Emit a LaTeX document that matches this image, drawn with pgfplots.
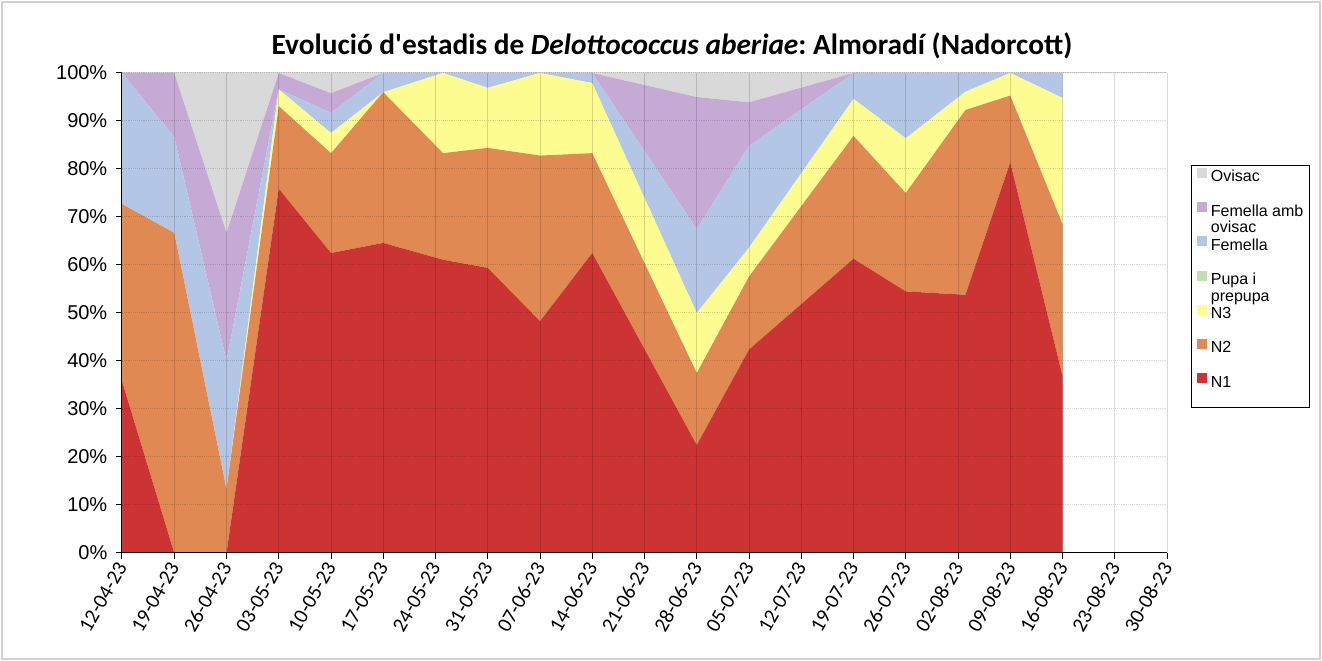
\documentclass[border=0pt]{standalone}
\usepackage{fontspec}
\setmainfont{Liberation Sans}
\newfontfamily\calibri{Carlito}
\usepackage{pgfplots}
\usepackage{pgfplotstable}
\pgfplotsset{compat=1.18}

\definecolor{cN1}{RGB}{204,51,51}
\definecolor{cN2}{RGB}{225,137,82}
\definecolor{cN3}{RGB}{253,252,145}
\definecolor{cPupa}{RGB}{193,222,174}
\definecolor{cFem}{RGB}{179,198,230}
\definecolor{cFemOv}{RGB}{197,170,214}
\definecolor{cOvi}{RGB}{217,217,217}

% day 0 = 12-04-23; shares per stage (%)
\pgfplotstableread{
day N1   N2   N3   Pupa Fem  FemOv Ovisac
0   35.8 36.9 0    0    27.3 0     0
7   0    66.7 0    0    20.0 13.3  0
14  0    13.3 0    0    26.7 26.7  33.3
21  75.9 17.2 3.5  0    0    3.4   0
28  62.5 20.8 4.2  0    4.2  4.1   4.2
35  64.6 31.4 0    0    4.0  0     0
43  61.1 22.2 16.7 0    0    0     0
49  59.4 25.0 12.5 0    3.1  0     0
56  48.3 34.5 17.2 0    0    0     0
63  62.5 20.8 14.6 0    2.1  0     0
77  22.5 15.0 12.5 0    17.5 27.5  5.0
84  42.4 15.2 6.0  0    21.2 9.1   6.1
98  61.3 25.6 7.7  0    5.4  0     0
105 54.5 20.5 11.4 0    13.6 0     0
113 53.8 38.5 3.8  0    3.9  0     0
119 81.4 13.9 4.7  0    0    0     0
126 36.9 31.6 26.3 0    5.2  0     0
}\stages

\begin{document}
\frenchspacing
\begin{tikzpicture}
\path[use as bounding box] (0,0) rectangle (991.5pt,495.75pt);
\draw[black!18, line width=1.5pt] (1.5pt,1.5pt) rectangle (990pt,494.25pt);

\node[font=\calibri\fontsize{22}{24}\selectfont\bfseries, anchor=base]
  at (504pt,455pt) {Evolució d\textquotesingle estadis de \textit{Delottococcus aberiae}: Almoradí (Nadorcott)};

\begin{axis}[
  at={(91.5pt,81pt)}, anchor=south west,
  scale only axis, width=783.75pt, height=360pt,
  xmin=0, xmax=140, ymin=0, ymax=100,
  stack plots=y,
  axis on top,
  axis x line*=bottom, axis y line*=left,
  axis line style={black, line width=0.75pt},
  tick align=outside, major tick length=4.5pt,
  tick style={black, line width=0.75pt},
  xtick={0,7,...,140},
  xticklabels={12-04-23,19-04-23,26-04-23,03-05-23,10-05-23,17-05-23,24-05-23,
    31-05-23,07-06-23,14-06-23,21-06-23,28-06-23,05-07-23,12-07-23,19-07-23,
    26-07-23,02-08-23,09-08-23,16-08-23,23-08-23,30-08-23},
  xticklabel style={font=\calibri\fontsize{15.5}{16}\selectfont, rotate=60, anchor=east, yshift=-2pt},
  ytick={0,10,...,100},
  yticklabels={0\%,10\%,20\%,30\%,40\%,50\%,60\%,70\%,80\%,90\%,100\%},
  yticklabel style={font=\fontsize{15}{15}\selectfont, xshift=-3pt},
  xmajorgrids, ymajorgrids,
  x grid style={black, opacity=0.15, line width=0.75pt},
  y grid style={black, opacity=0.15, densely dotted, line width=0.75pt},
  legend image code/.code={\fill[#1] (0pt,0pt) rectangle (7.5pt,7.5pt);},
  legend cell align=left,
  reverse legend,
  legend style={at={(axis description cs:1.0239,0.8083)}, anchor=north west,
    draw=none, name=leg, font=\fontsize{12}{12.5}\selectfont,
    inner xsep=3.75pt, inner ysep=2pt, row sep=11.9pt, column sep=2pt,
    nodes={inner sep=0.75pt, text height=8.5pt, text depth=2.5pt}},
]
\addplot[fill=cN1, draw=none] table[x=day, y=N1] {\stages} \closedcycle;
\addlegendentry{N1}
\addplot[fill=cN2, draw=none] table[x=day, y=N2] {\stages} \closedcycle;
\addlegendentry{N2}
\addplot[fill=cN3, draw=none] table[x=day, y=N3] {\stages} \closedcycle;
\addlegendentry{N3}
\addplot[fill=cPupa, draw=none] table[x=day, y=Pupa] {\stages} \closedcycle;
\addlegendentry{\begin{tabular}[t]{@{}l@{}}Pupa i\\prepupa\end{tabular}}
\addplot[fill=cFem, draw=none] table[x=day, y=Fem] {\stages} \closedcycle;
\addlegendentry{Femella}
\addplot[fill=cFemOv, draw=none] table[x=day, y=FemOv] {\stages} \closedcycle;
\addlegendentry{\begin{tabular}[t]{@{}l@{}}Femella amb\\ovisac\end{tabular}}
\addplot[fill=cOvi, draw=none] table[x=day, y=Ovisac] {\stages} \closedcycle;
\addlegendentry{Ovisac}
\draw[black, opacity=0.15, line width=0.75pt] (rel axis cs:0,1) -- (rel axis cs:1,1);
\end{axis}
\draw[black, line width=0.75pt] (leg.north west) rectangle ([yshift=-10pt]leg.south east);
\end{tikzpicture}
\end{document}
